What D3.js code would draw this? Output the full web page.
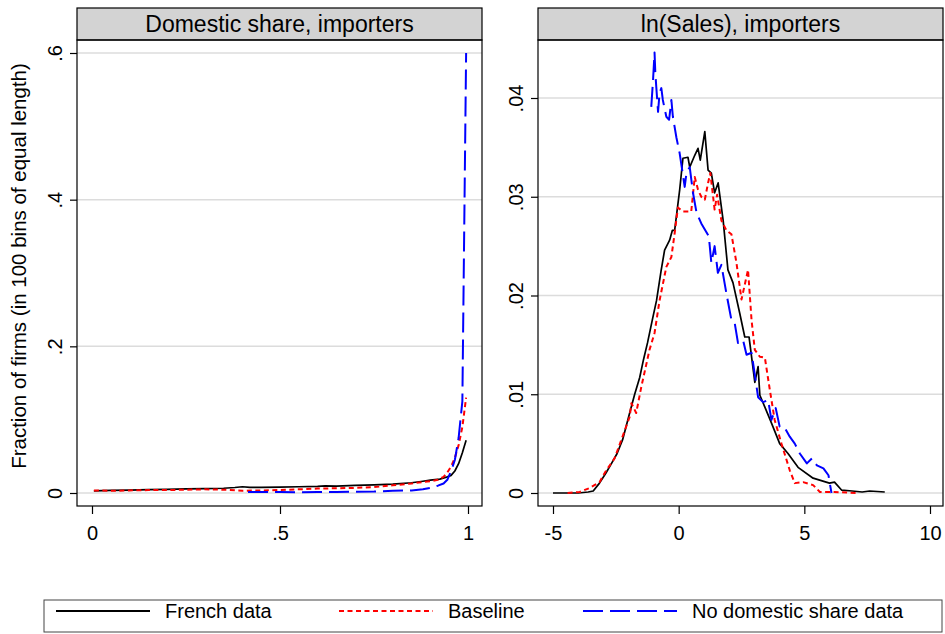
<html>
<head>
<style>
  body { margin: 0; background: #fff; }
  text { font-family: "Liberation Sans", Arial, sans-serif; fill: #000; }
  .grid { stroke: #dcdcdc; stroke-width: 1.5; }
  .frame { fill: none; stroke: #000; stroke-width: 1.2; }
  .line { fill: none; stroke-linejoin: round; }
</style>
</head>
<body>
<svg id="chart" width="945" height="634"></svg>
<script src="https://cdn.jsdelivr.net/npm/d3@7"></script>
<script>
// ---- data ----
let seriesNames = ["French data", "Baseline", "No domestic share data"]
let panelTitles = ["Domestic share, importers", "ln(Sales), importers"]
let leftXTicks = [0, 0.5, 1]
let leftYTicks = [0, 0.2, 0.4, 0.6]
let rightXTicks = [-5, 0, 5, 10]
let rightYTicks = [0, 0.01, 0.02, 0.03, 0.04]

let leftFrench = [[0.005,0.003],[0.05,0.0035],[0.1,0.004],[0.15,0.0045],[0.2,0.005],[0.25,0.0055],[0.3,0.006],[0.35,0.0065],[0.38,0.0075],[0.4,0.0085],[0.42,0.0078],[0.45,0.0078],[0.5,0.008],[0.55,0.0085],[0.6,0.009],[0.62,0.0098],[0.65,0.0095],[0.7,0.0105],[0.75,0.011],[0.8,0.012],[0.85,0.014],[0.88,0.016],[0.9,0.0175],[0.925,0.019],[0.945,0.022],[0.955,0.024],[0.965,0.03],[0.975,0.04],[0.985,0.055],[0.995,0.072]]
let leftBaseline = [[0.005,0.0035],[0.05,0.003],[0.1,0.0035],[0.15,0.004],[0.2,0.004],[0.25,0.0045],[0.3,0.005],[0.35,0.0045],[0.4,0.003],[0.45,0.0035],[0.5,0.004],[0.55,0.005],[0.6,0.006],[0.65,0.0065],[0.7,0.007],[0.75,0.008],[0.8,0.0105],[0.85,0.013],[0.88,0.015],[0.9,0.016],[0.92,0.018],[0.935,0.022],[0.945,0.028],[0.955,0.036],[0.965,0.048],[0.975,0.065],[0.985,0.09],[0.995,0.13]]
let leftNoDomestic = [[0.415,0.0012],[0.45,0.0012],[0.5,0.0015],[0.55,0.001],[0.6,0.0015],[0.65,0.0012],[0.7,0.0018],[0.75,0.002],[0.8,0.003],[0.85,0.0035],[0.88,0.005],[0.9,0.007],[0.92,0.01],[0.935,0.013],[0.945,0.018],[0.955,0.03],[0.965,0.045],[0.975,0.075],[0.985,0.125],[0.995,0.6]]

let rightFrench = [[-5,0],[-4.5,0],[-4,0],[-3.6,0.0001],[-3.4,0.0002],[-3.15,0.001],[-2.9,0.002],[-2.67,0.003],[-2.45,0.004],[-2.23,0.0054],[-1.95,0.0081],[-1.75,0.01],[-1.55,0.0117],[-1.4,0.0135],[-1.24,0.0152],[-1.05,0.0175],[-0.88,0.0195],[-0.7,0.0225],[-0.56,0.0246],[-0.36,0.0256],[-0.25,0.0266],[-0.16,0.0266],[0.04,0.0307],[0.17,0.0339],[0.37,0.034],[0.44,0.033],[0.64,0.0342],[0.77,0.0349],[0.86,0.0337],[1.04,0.0366],[1.17,0.0327],[1.3,0.0324],[1.43,0.0304],[1.57,0.0314],[1.77,0.0276],[1.96,0.0226],[2.16,0.0213],[2.43,0.0182],[2.63,0.0158],[2.8,0.0158],[3.03,0.0112],[3.16,0.0128],[3.23,0.0099],[3.43,0.0087],[3.69,0.0071],[4.02,0.005],[4.35,0.004],[4.75,0.0026],[5.35,0.0015],[6.0,0.001],[6.2,0.0011],[6.48,0.0003],[6.9,0.0002],[7.3,0.0001],[7.6,0.0002],[8.2,0.0001]]
let rightBaseline = [[-4.42,0],[-3.94,0.0001],[-3.55,0.0005],[-3.35,0.0008],[-3.15,0.0011],[-2.88,0.0023],[-2.55,0.0035],[-2.28,0.0054],[-1.95,0.0077],[-1.88,0.0091],[-1.69,0.0081],[-1.49,0.0107],[-1.16,0.0145],[-0.96,0.0162],[-0.76,0.0195],[-0.49,0.0229],[-0.29,0.0239],[-0.16,0.0263],[-0.03,0.0289],[0.17,0.0285],[0.5,0.0285],[0.64,0.032],[0.77,0.0307],[0.9,0.03],[1.04,0.0297],[1.17,0.0314],[1.26,0.0324],[1.43,0.0287],[1.53,0.0302],[1.7,0.0276],[1.9,0.0266],[2.1,0.0262],[2.3,0.0233],[2.5,0.0196],[2.76,0.0226],[2.9,0.0175],[3.03,0.0145],[3.23,0.0138],[3.43,0.0137],[3.63,0.0104],[3.82,0.0074],[4.09,0.005],[4.42,0.0023],[4.62,0.001],[4.95,0.0011],[5.35,0.0008],[5.62,0.0001],[6.2,0.0001],[7.08,0]]
let rightNoDomestic = [[-1.09,0.0391],[-1.02,0.0418],[-0.96,0.0446],[-0.93,0.0426],[-0.89,0.0411],[-0.82,0.0386],[-0.76,0.0405],[-0.69,0.041],[-0.63,0.0398],[-0.49,0.0381],[-0.38,0.0378],[-0.29,0.0398],[-0.23,0.0381],[-0.09,0.036],[0.04,0.0344],[0.24,0.031],[0.31,0.0324],[0.44,0.033],[0.57,0.0304],[0.71,0.0284],[0.9,0.0273],[1.2,0.026],[1.3,0.0233],[1.43,0.025],[1.56,0.0223],[1.7,0.0231],[1.9,0.0202],[2.1,0.0175],[2.23,0.0172],[2.36,0.0152],[2.56,0.0155],[2.7,0.014],[2.9,0.0142],[3.16,0.0097],[3.36,0.0092],[3.56,0.0094],[3.69,0.0074],[3.86,0.0086],[4.02,0.0067],[4.22,0.0066],[4.42,0.0057],[4.62,0.005],[4.82,0.004],[5.1,0.003],[5.3,0.0035],[5.5,0.0028],[5.76,0.0025],[5.96,0.0018],[6.08,0]]

let styles = [
  { color: "#000000", width: 1.7, dash: null },
  { color: "#ff0000", width: 2, dash: "5,3.5" },
  { color: "#0000ff", width: 2, dash: "20,7" }
]

let svg = d3.select("#chart")

let panels = [
  { title: panelTitles[0], left: 77, right: 482, xDomain: [0, 1], xRange: [92, 468],
    yDomain: [0, 0.6], xTicks: leftXTicks, yTicks: leftYTicks,
    xFmt: d => d === 0 ? "0" : d === 1 ? "1" : d3.format(".1f")(d).replace(/^0/, ""),
    yFmt: d => d === 0 ? "0" : d3.format(".1f")(d).replace(/^0/, ""),
    series: [leftFrench, leftBaseline, leftNoDomestic] },
  { title: panelTitles[1], left: 538, right: 943, xDomain: [-5, 10], xRange: [553, 930],
    yDomain: [0, 0.04], xTicks: rightXTicks, yTicks: rightYTicks,
    xFmt: d => String(d),
    yFmt: d => d === 0 ? "0" : d3.format(".2f")(d).replace(/^0/, ""),
    series: [rightFrench, rightBaseline, rightNoDomestic] }
]

let headTop = 8, headBottom = 40, plotBottom = 506

panels.forEach((p, i) => {
  let x = d3.scaleLinear().domain(p.xDomain).range(p.xRange)
  let yTopPx = i === 0 ? 53 : 98
  let y = d3.scaleLinear().domain([0, p.yDomain[1]]).range([493, yTopPx])
  let g = svg.append("g")

  // header strip
  g.append("rect").attr("x", p.left).attr("y", headTop)
    .attr("width", p.right - p.left).attr("height", headBottom - headTop)
    .attr("fill", "#d3d3d3").attr("stroke", "#000").attr("stroke-width", 1.2)
  g.append("text").attr("x", (p.left + p.right) / 2).attr("y", 32)
    .attr("text-anchor", "middle").attr("font-size", 23).text(p.title)

  // gridlines
  g.selectAll(".grid").data(p.yTicks).enter().append("line").attr("class", "grid")
    .attr("x1", p.left).attr("x2", p.right)
    .attr("y1", d => y(d)).attr("y2", d => y(d))

  // series
  let line = d3.line().x(d => x(d[0])).y(d => y(d[1]))
  p.series.forEach((s, k) => {
    g.append("path").attr("class", "line").attr("d", line(s))
      .attr("stroke", styles[k].color).attr("stroke-width", styles[k].width)
      .attr("stroke-dasharray", styles[k].dash)
  })

  // frame
  g.append("rect").attr("class", "frame").attr("x", p.left).attr("y", headBottom)
    .attr("width", p.right - p.left).attr("height", plotBottom - headBottom)

  // y axis
  let yAxis = d3.axisLeft(y).tickValues(p.yTicks).tickSize(7).tickFormat(p.yFmt)
  let ya = g.append("g").attr("transform", `translate(${p.left},0)`).call(yAxis)
  ya.select(".domain").remove()
  ya.selectAll(".tick line").attr("stroke-width", 1.2)
  ya.selectAll(".tick text").attr("font-size", 20).attr("fill", "#000")
    .attr("font-family", "Liberation Sans, Arial, sans-serif")
    .attr("x", null).attr("dy", null).attr("text-anchor", "middle")
    .attr("transform", "translate(-15,0) rotate(-90)")

  // x axis
  let xAxis = d3.axisBottom(x).tickValues(p.xTicks).tickSize(8).tickFormat(p.xFmt)
  let xa = g.append("g").attr("transform", `translate(0,${plotBottom})`).call(xAxis)
  xa.select(".domain").remove()
  xa.selectAll(".tick line").attr("stroke-width", 1.2)
  xa.selectAll(".tick text").attr("font-size", 20).attr("fill", "#000")
    .attr("font-family", "Liberation Sans, Arial, sans-serif")
    .attr("y", 34).attr("dy", null)
})

// y axis title
svg.append("text").attr("transform", "translate(26,266) rotate(-90)")
  .attr("text-anchor", "middle").attr("font-size", 20.5)
  .text("Fraction of firms (in 100 bins of equal length)")

// legend
let legend = svg.append("g")
legend.append("rect").attr("x", 44).attr("y", 600).attr("width", 898).attr("height", 32)
  .attr("fill", "#fff").attr("stroke", "#444").attr("stroke-width", 1)
let legendX = [56, 339, 583]
seriesNames.forEach((name, k) => {
  legend.append("line").attr("x1", legendX[k]).attr("x2", legendX[k] + 94)
    .attr("y1", 611).attr("y2", 611)
    .attr("stroke", styles[k].color).attr("stroke-width", 2)
    .attr("stroke-dasharray", styles[k].dash)
  legend.append("text").attr("x", legendX[k] + 109).attr("y", 618)
    .attr("font-size", 20).text(name)
})
</script>
</body>
</html>
